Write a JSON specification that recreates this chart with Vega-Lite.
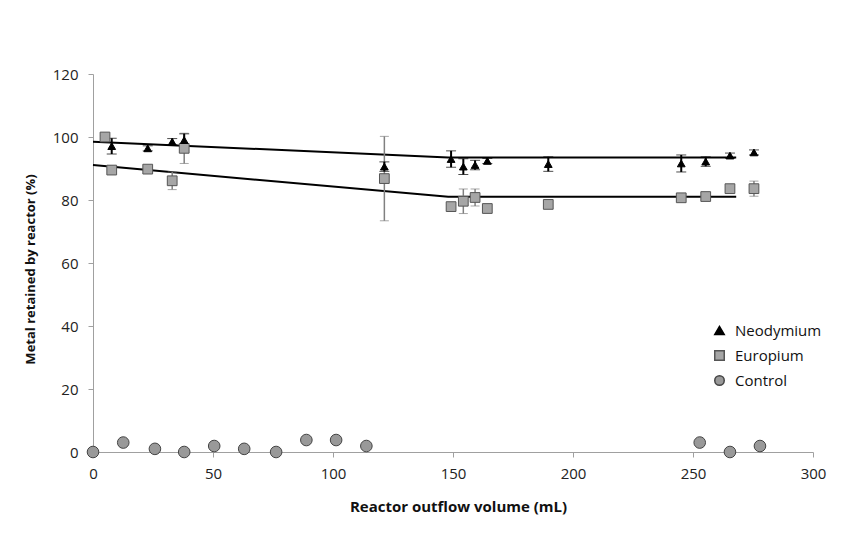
{
  "$schema": "https://vega.github.io/schema/vega-lite/v6.json",
  "width": 720,
  "height": 378,
  "autosize": {"type": "none"},
  "padding": {"left": 93, "top": 74, "right": 38, "bottom": 85},
  "background": "white",
  "config": {
    "view": {"stroke": null},
    "font": "Open Sans",
    "axis": {"grid": false, "labelFlush": false, "domainColor": "#a0a0a0", "tickColor": "#a0a0a0", "tickSize": 5, "labelFontSize": 15, "labelColor": "#222", "titleFontWeight": "bold", "titleColor": "#111", "labelFont": "Open Sans", "titleFont": "Open Sans"},
    "legend": {"labelFontSize": 15, "labelFont": "Open Sans", "labelColor": "#111", "rowPadding": 8, "symbolSize": 90, "labelOffset": 8}
  },
  "datasets": {
    "pts": [
      {"series": "Neodymium", "x": 7.8, "y": 97.1, "err": 2.5},
      {"series": "Neodymium", "x": 22.8, "y": 96.4, "err": 0.8},
      {"series": "Neodymium", "x": 33, "y": 98.5, "err": 1},
      {"series": "Neodymium", "x": 38, "y": 99, "err": 2},
      {"series": "Neodymium", "x": 121.4, "y": 90.6, "err": 1.5},
      {"series": "Neodymium", "x": 149.2, "y": 93.0, "err": 2.6},
      {"series": "Neodymium", "x": 154.3, "y": 90.6, "err": 2.5},
      {"series": "Neodymium", "x": 159.2, "y": 91.1, "err": 1.5},
      {"series": "Neodymium", "x": 164.3, "y": 92.4, "err": 0.8},
      {"series": "Neodymium", "x": 189.7, "y": 91.4, "err": 2.3},
      {"series": "Neodymium", "x": 245.1, "y": 91.6, "err": 2.7},
      {"series": "Neodymium", "x": 255.3, "y": 92.2, "err": 1.5},
      {"series": "Neodymium", "x": 265.4, "y": 94.1, "err": 0.8},
      {"series": "Neodymium", "x": 275.4, "y": 95.1, "err": 0.8},
      {"series": "Europium", "x": 5, "y": 100, "err": 0.5},
      {"series": "Europium", "x": 7.8, "y": 89.5, "err": 0.5},
      {"series": "Europium", "x": 22.8, "y": 89.8, "err": 0.8},
      {"series": "Europium", "x": 33, "y": 86.1, "err": 2.8},
      {"series": "Europium", "x": 38, "y": 96.4, "err": 4.8},
      {"series": "Europium", "x": 121.4, "y": 86.8, "err": 13.4},
      {"series": "Europium", "x": 149.2, "y": 77.9, "err": 0.5},
      {"series": "Europium", "x": 154.3, "y": 79.6, "err": 3.9},
      {"series": "Europium", "x": 159.2, "y": 80.8, "err": 2.7},
      {"series": "Europium", "x": 164.3, "y": 77.3, "err": 0.5},
      {"series": "Europium", "x": 189.7, "y": 78.6, "err": 0.5},
      {"series": "Europium", "x": 245.1, "y": 80.7, "err": 0.5},
      {"series": "Europium", "x": 255.3, "y": 81.1, "err": 0.5},
      {"series": "Europium", "x": 265.4, "y": 83.6, "err": 0.5},
      {"series": "Europium", "x": 275.4, "y": 83.6, "err": 2.4},
      {"series": "Control", "x": 0, "y": 0, "err": 0},
      {"series": "Control", "x": 12.6, "y": 3.0, "err": 0},
      {"series": "Control", "x": 25.8, "y": 1.0, "err": 0},
      {"series": "Control", "x": 38, "y": 0, "err": 0},
      {"series": "Control", "x": 50.5, "y": 1.9, "err": 0},
      {"series": "Control", "x": 63, "y": 1.0, "err": 0},
      {"series": "Control", "x": 76.3, "y": 0, "err": 0},
      {"series": "Control", "x": 88.9, "y": 3.8, "err": 0},
      {"series": "Control", "x": 101.3, "y": 3.8, "err": 0},
      {"series": "Control", "x": 113.9, "y": 1.9, "err": 0},
      {"series": "Control", "x": 252.8, "y": 3.0, "err": 0},
      {"series": "Control", "x": 265.4, "y": 0, "err": 0},
      {"series": "Control", "x": 277.9, "y": 1.9, "err": 0}
    ],
    "trend": [
      {"series": "Neodymium", "x": 0, "y": 98.5},
      {"series": "Neodymium", "x": 148, "y": 93.5},
      {"series": "Neodymium", "x": 268, "y": 93.5},
      {"series": "Europium", "x": 0, "y": 91.1},
      {"series": "Europium", "x": 148, "y": 81},
      {"series": "Europium", "x": 268, "y": 81}
    ]
  },
  "encoding": {
    "x": {"field": "x", "type": "quantitative", "scale": {"domain": [0, 300], "nice": false}, "axis": {"values": [0, 50, 100, 150, 200, 250, 300], "title": "Reactor outflow volume (mL)", "titleFontSize": 15, "labelPadding": 9, "titleX": 365, "titleY": 54, "titleBaseline": "middle"}},
    "y": {"field": "y", "type": "quantitative", "scale": {"domain": [0, 120], "nice": false}, "axis": {"values": [0, 20, 40, 60, 80, 100, 120], "title": "Metal retained by reactor (%)", "titleFontSize": 13, "labelPadding": 10, "titleX": -63, "titleY": 195, "titleBaseline": "middle", "titleAlign": "center"}},
    "shape": {"field": "series", "type": "nominal", "title": null, "scale": {"domain": ["Neodymium", "Europium", "Control"], "range": ["triangle-up", "square", "circle"]}, "legend": {"orient": "none", "legendX": 619, "legendY": 249}},
    "fill": {"field": "series", "type": "nominal", "title": null, "scale": {"domain": ["Neodymium", "Europium", "Control"], "range": ["#000000", "#a6a6a6", "#999999"]}, "legend": {"orient": "none", "legendX": 619, "legendY": 249}},
    "stroke": {"field": "series", "type": "nominal", "title": null, "scale": {"domain": ["Neodymium", "Europium", "Control"], "range": ["#000000", "#555555", "#444444"]}, "legend": {"orient": "none", "legendX": 619, "legendY": 249}}
  },
  "layer": [
    {
      "data": {"name": "trend"},
      "mark": {"type": "line", "color": "black", "strokeWidth": 2},
      "encoding": {"detail": {"field": "series"}, "shape": null, "fill": null, "stroke": null}
    },
    {
      "data": {"name": "pts"},
      "transform": [{"filter": "datum.series === 'Europium'"}],
      "mark": {"type": "errorbar", "ticks": {"size": 9, "color": "#808080"}, "rule": {"color": "#808080", "strokeWidth": 1.5}},
      "encoding": {"yError": {"field": "err"}, "shape": null, "fill": null, "stroke": null}
    },
    {
      "data": {"name": "pts"},
      "transform": [{"filter": "datum.series === 'Neodymium'"}],
      "mark": {"type": "errorbar", "ticks": {"size": 10, "color": "black", "strokeWidth": 2}, "rule": {"color": "black", "strokeWidth": 2}},
      "encoding": {"yError": {"field": "err"}, "shape": null, "fill": null, "stroke": null}
    },
    {
      "data": {"name": "pts"},
      "transform": [{"filter": "datum.series === 'Control'"}],
      "mark": {"type": "point", "filled": true, "opacity": 1, "strokeWidth": 1, "size": 135}
    },
    {
      "data": {"name": "pts"},
      "transform": [{"filter": "datum.series === 'Europium'"}],
      "mark": {"type": "point", "filled": true, "opacity": 1, "strokeWidth": 1, "size": 95}
    },
    {
      "data": {"name": "pts"},
      "transform": [{"filter": "datum.series === 'Neodymium'"}],
      "mark": {"type": "point", "filled": true, "opacity": 1, "strokeWidth": 1, "size": 60}
    }
  ]
}
